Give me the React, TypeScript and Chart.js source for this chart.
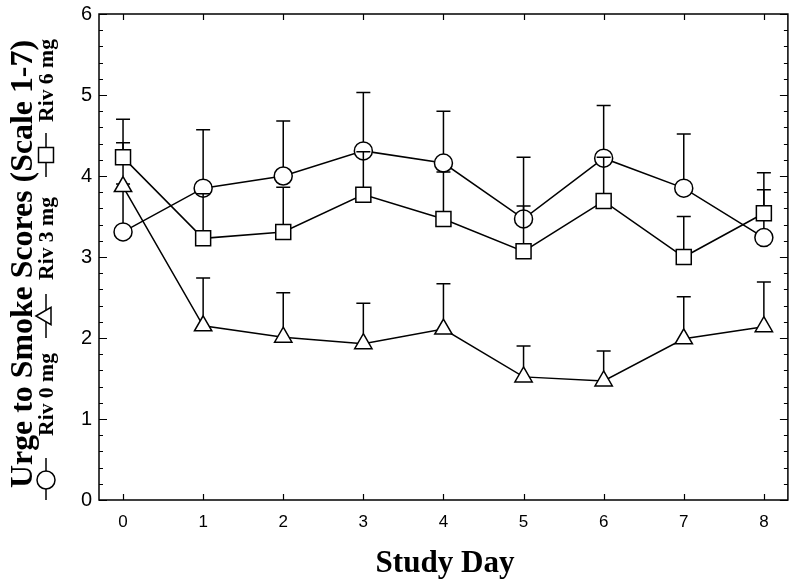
import React, { useEffect, useRef } from "react";
import { Chart, registerables } from "chart.js";

Chart.register(...registerables);

const days = [0, 1, 2, 3, 4, 5, 6, 7, 8];
const riv0 = [3.31, 3.85, 4.0, 4.31, 4.16, 3.47, 4.22, 3.85, 3.24];
const riv0Upper = [3.9, 4.57, 4.68, 5.03, 4.8, 4.23, 4.87, 4.52, 3.83];
const riv3 = [3.87, 2.15, 2.01, 1.93, 2.11, 1.52, 1.47, 1.99, 2.14];
const riv3Upper = [4.41, 2.74, 2.56, 2.43, 2.67, 1.9, 1.84, 2.51, 2.69];
const riv6 = [4.23, 3.23, 3.31, 3.77, 3.47, 3.07, 3.69, 3.0, 3.54];
const riv6Upper = [4.7, 3.78, 3.86, 4.3, 4.05, 3.63, 4.23, 3.5, 4.04];
const yTicks = [0, 1, 2, 3, 4, 5, 6];
const seriesLabels = ["Riv 0 mg", "Riv 3 mg", "Riv 6 mg"];
const xTitle = "Study Day";
const yTitle = "Urge to Smoke Scores (Scale 1-7)";

const SERIF = "'Liberation Serif', 'Times New Roman', serif";
const SANS = "'Liberation Sans', Arial, sans-serif";

function fitFont(ctx: CanvasRenderingContext2D, text: string, target: number) {
  ctx.font = `bold 20px ${SERIF}`;
  const w = ctx.measureText(text).width;
  const size = (20 * target) / w;
  return `bold ${size.toFixed(2)}px ${SERIF}`;
}

function marker(ctx: CanvasRenderingContext2D, style: string, x: number, y: number, r: number, rotated: boolean) {
  ctx.beginPath();
  if (style === "circle") {
    ctx.arc(x, y, r, 0, Math.PI * 2);
  } else if (style === "rect") {
    const s = r * Math.SQRT1_2;
    ctx.rect(x - s, y - s, 2 * s, 2 * s);
  } else {
    const h = r * Math.sin(Math.PI / 3);
    if (rotated) {
      ctx.moveTo(x - r, y);
      ctx.lineTo(x + r / 2, y - h);
      ctx.lineTo(x + r / 2, y + h);
    } else {
      ctx.moveTo(x, y - r);
      ctx.lineTo(x + h, y + r / 2);
      ctx.lineTo(x - h, y + r / 2);
    }
    ctx.closePath();
  }
  ctx.fillStyle = "#fff";
  ctx.fill();
  ctx.stroke();
}

const uppers = [riv0Upper, riv3Upper, riv6Upper];
const styles = ["circle", "triangle", "rect"];
const radii = [9, 10, 10.6];
const stemOffset = [9, 10, 7.5];

const customPlugin = {
  id: "custom",
  afterDatasetDraw(chart: any, args: any) {
    const idx = args.index;
    const meta = args.meta;
    const ys = chart.scales.y;
    const ctx: CanvasRenderingContext2D = chart.ctx;
    ctx.save();
    ctx.strokeStyle = "#000";
    ctx.lineWidth = 1.5;
    meta.data.forEach((pt: any, i: number) => {
      const uy = ys.getPixelForValue(uppers[idx][i]);
      ctx.beginPath();
      ctx.moveTo(pt.x, pt.y - stemOffset[idx]);
      ctx.lineTo(pt.x, uy);
      ctx.moveTo(pt.x - 7, uy);
      ctx.lineTo(pt.x + 7, uy);
      ctx.stroke();
    });
    ctx.restore();
  },
  afterDraw(chart: any) {
    const ctx: CanvasRenderingContext2D = chart.ctx;
    const { left, right, top, bottom } = chart.chartArea;
    const xs = chart.scales.x;
    const ys = chart.scales.y;
    ctx.save();
    ctx.strokeStyle = "#000";
    ctx.lineWidth = 1.5;
    ctx.beginPath();
    ctx.rect(left, top, right - left, bottom - top);
    ctx.stroke();
    ctx.lineWidth = 1.2;
    ctx.beginPath();
    for (let k = 0; k <= 30; k++) {
      const v = k * 0.2;
      const py = Math.round(ys.getPixelForValue(v)) + 0.5;
      const len = k % 5 === 0 ? 8 : 4;
      ctx.moveTo(left, py);
      ctx.lineTo(left + len, py);
      ctx.moveTo(right, py);
      ctx.lineTo(right - len, py);
    }
    days.forEach((d) => {
      const px = Math.round(xs.getPixelForValue(d)) + 0.5;
      ctx.moveTo(px, bottom);
      ctx.lineTo(px, bottom - 6);
      ctx.moveTo(px, top);
      ctx.lineTo(px, top + 6);
    });
    ctx.stroke();

    ctx.fillStyle = "#000";
    // x title
    ctx.font = fitFont(ctx, xTitle, 139);
    ctx.textAlign = "center";
    ctx.textBaseline = "alphabetic";
    ctx.fillText(xTitle, 445, 572);

    // y title
    ctx.save();
    ctx.translate(32, 264);
    ctx.rotate(-Math.PI / 2);
    ctx.font = fitFont(ctx, yTitle, 448);
    ctx.textAlign = "center";
    ctx.textBaseline = "alphabetic";
    ctx.fillText(yTitle, 0, 0);
    ctx.restore();

    // legend
    const lx = 46;
    const entries = [
      { y0: 500, y1: 458, my: 480, ty: 436 },
      { y0: 338, y1: 294, my: 316, ty: 280 },
      { y0: 177, y1: 133, my: 155, ty: 122 },
    ];
    ctx.lineWidth = 1.5;
    entries.forEach((e, i) => {
      ctx.beginPath();
      ctx.moveTo(lx, e.y0);
      ctx.lineTo(lx, e.y1);
      ctx.stroke();
      marker(ctx, styles[i], lx, e.my, radii[i], true);
      ctx.save();
      ctx.translate(53, e.ty);
      ctx.rotate(-Math.PI / 2);
      ctx.fillStyle = "#000";
      ctx.font = fitFont(ctx, seriesLabels[i], 83);
      ctx.textAlign = "left";
      ctx.textBaseline = "alphabetic";
      ctx.fillText(seriesLabels[i], 0, 0);
      ctx.restore();
    });
    ctx.restore();
  },
};

export default function App() {
  const ref = useRef<HTMLCanvasElement | null>(null);
  useEffect(() => {
    if (!ref.current) return;
    const mk = (vals: number[]) => days.map((d, i) => ({ x: d, y: vals[i] }));
    const common = {
      borderColor: "#000",
      backgroundColor: "#fff",
      pointBackgroundColor: "#fff",
      pointBorderColor: "#000",
      borderWidth: 1.5,
      pointBorderWidth: 1.5,
      fill: false,
      tension: 0,
    };
    const chart = new Chart(ref.current, {
      type: "line",
      data: {
        datasets: [
          { ...common, label: seriesLabels[0], data: mk(riv0), pointStyle: "circle", pointRadius: radii[0], pointHoverRadius: radii[0], order: 3 },
          { ...common, label: seriesLabels[1], data: mk(riv3), pointStyle: "triangle", pointRadius: radii[1], pointHoverRadius: radii[1], order: 2 },
          { ...common, label: seriesLabels[2], data: mk(riv6), pointStyle: "rect", pointRadius: radii[2], pointHoverRadius: radii[2], order: 1 },
        ],
      },
      options: {
        animation: false,
        responsive: false,
        devicePixelRatio: 1,
        layout: { padding: { left: 59, right: 9, top: 14, bottom: 0 } },
        plugins: { legend: { display: false }, tooltip: { enabled: false } },
        scales: {
          x: {
            type: "linear",
            min: -0.3,
            max: 8.3,
            afterBuildTicks: (s: any) => {
              s.ticks = days.map((v) => ({ value: v }));
            },
            afterFit: (s: any) => {
              s.height = 86;
              s.paddingLeft = 0;
              s.paddingRight = 0;
            },
            ticks: { color: "#000", font: { family: SANS, size: 17 }, padding: 12, maxRotation: 0, autoSkip: false },
            grid: { display: false, drawTicks: false },
            border: { display: false },
          },
          y: {
            min: 0,
            max: 6,
            afterBuildTicks: (s: any) => {
              s.ticks = yTicks.map((v) => ({ value: v }));
            },
            afterFit: (s: any) => {
              s.width = 40;
              s.paddingTop = 0;
              s.paddingBottom = 0;
            },
            ticks: { color: "#000", font: { family: SANS, size: 20 }, padding: 7 },
            grid: { display: false, drawTicks: false },
            border: { display: false },
          },
        },
      },
      plugins: [customPlugin],
    } as any);
    return () => chart.destroy();
  }, []);
  return (
    <div style={{ position: "absolute", left: 0, top: 0, width: 800, height: 586, background: "#fff" }}>
      <canvas ref={ref} width={800} height={586} style={{ width: 800, height: 586 }} />
    </div>
  );
}
